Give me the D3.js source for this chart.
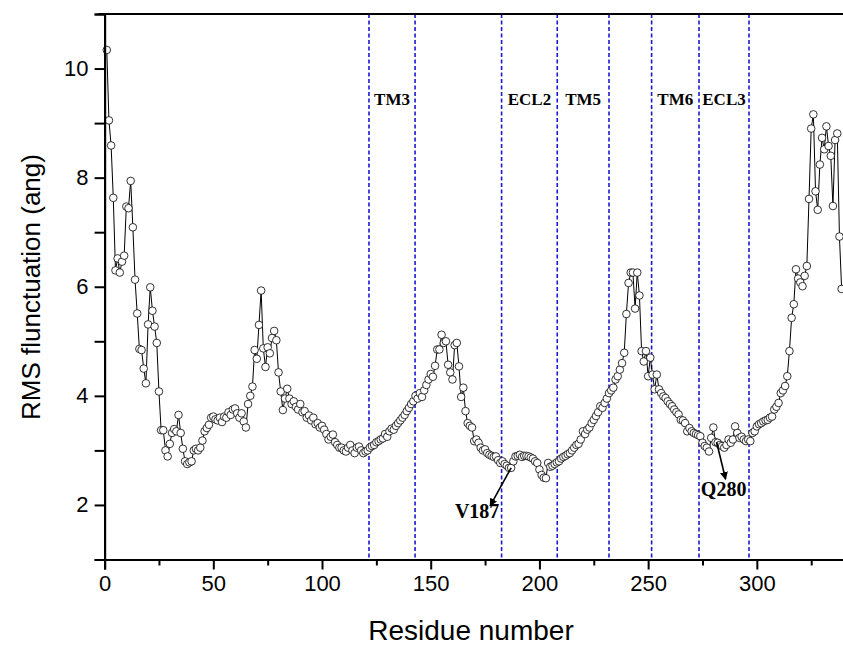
<!DOCTYPE html>
<html>
<head>
<meta charset="utf-8">
<script src="https://cdn.jsdelivr.net/npm/d3@7"></script>
<style>
  body { margin: 0; background: #fff; }
  svg { display: block; }
</style>
</head>
<body>
<div class="rmsf"></div>
<script>
// RMS fluctuation per residue (residue 1 .. 339)
const rmsf = [
  10.34, 9.05, 8.59, 7.63, 6.30, 6.52, 6.26, 6.46, 6.57, 7.47,
  7.44, 7.94, 7.09, 6.13, 5.51, 4.86, 4.84, 4.50, 4.23, 5.31,
  5.99, 5.56, 5.27, 4.97, 4.08, 3.37, 3.37, 3.00, 2.89, 3.12,
  3.32, 3.39, 3.35, 3.65, 3.32, 3.03, 2.80, 2.75, 2.78, 2.80,
  3.00, 3.03, 3.00, 3.05, 3.18, 3.35, 3.41, 3.47, 3.60, 3.62,
  3.57, 3.55, 3.60, 3.52, 3.62, 3.60, 3.70, 3.65, 3.75, 3.77,
  3.68, 3.60, 3.68, 3.53, 3.42, 3.85, 4.00, 4.17, 4.84, 4.68,
  5.30, 5.93, 4.87, 4.53, 4.89, 4.78, 5.06, 5.19, 5.02, 4.43,
  4.08, 3.74, 3.95, 4.13, 3.95, 3.85, 3.90, 3.80, 3.75, 3.85,
  3.70, 3.72, 3.60, 3.64, 3.55, 3.60, 3.48, 3.50, 3.42, 3.45,
  3.38, 3.30, 3.20, 3.25, 3.29, 3.15, 3.10, 3.05, 3.05, 3.00,
  2.98, 3.05, 3.10, 3.00, 2.95, 3.05, 3.07, 3.00, 2.95, 2.98,
  3.00, 3.05, 3.08, 3.10, 3.15, 3.17, 3.20, 3.22, 3.30, 3.25,
  3.35, 3.40, 3.38, 3.45, 3.50, 3.55, 3.60, 3.65, 3.72, 3.78,
  3.85, 3.90, 4.00, 3.95, 4.05, 3.98, 4.10, 4.20, 4.30, 4.40,
  4.35, 4.55, 4.85, 4.85, 5.12, 4.97, 5.00, 4.57, 4.43, 4.30,
  4.93, 4.97, 4.54, 3.98, 4.15, 3.72, 3.50, 3.45, 3.42, 3.17,
  3.20, 3.14, 3.05, 3.00, 3.02, 2.95, 2.92, 2.90, 2.88, 2.89,
  2.82, 2.77, 2.80, 2.75, 2.72, 2.68, 2.68, 2.80, 2.89, 2.90,
  2.92, 2.88, 2.90, 2.90, 2.89, 2.87, 2.85, 2.80, 2.77, 2.65,
  2.55, 2.50, 2.49, 2.77, 2.70, 2.72, 2.75, 2.78, 2.80, 2.85,
  2.88, 2.90, 2.93, 2.95, 3.00, 3.05, 3.10, 3.12, 3.20, 3.35,
  3.30, 3.38, 3.42, 3.50, 3.56, 3.63, 3.70, 3.81, 3.78, 3.87,
  3.95, 4.05, 4.10, 4.15, 4.30, 4.36, 4.48, 4.60, 4.79, 5.50,
  6.07, 6.26, 6.26, 5.60, 6.26, 5.84, 4.82, 4.63, 4.82, 4.36,
  4.70, 4.39, 4.12, 4.39, 4.12, 4.05, 3.99, 3.96, 3.90, 3.85,
  3.81, 3.75, 3.70, 3.66, 3.56, 3.55, 3.50, 3.35, 3.41, 3.35,
  3.32, 3.30, 3.28, 3.26, 3.14, 3.08, 3.05, 2.98, 3.23, 3.42,
  3.15, 3.14, 3.10, 3.08, 3.05, 3.10, 3.20, 3.14, 3.20, 3.44,
  3.32, 3.23, 3.25, 3.20, 3.17, 3.20, 3.17, 3.32, 3.35, 3.44,
  3.48, 3.50, 3.53, 3.55, 3.56, 3.60, 3.62, 3.75, 3.80, 3.87,
  4.05, 4.10, 4.18, 4.36, 4.82, 5.43, 5.68, 6.32, 6.15, 6.08,
  6.01, 6.20, 6.38, 7.61, 8.90, 9.16, 7.75, 7.41, 8.24, 8.73,
  8.52, 8.94, 8.58, 8.40, 7.48, 8.69, 8.81, 6.92, 5.96
];

// region boundaries (residue numbers) and their labels
const boundaries = [121.6, 142.8, 182.6, 208.2, 232, 251.6, 273.4, 296.4];
const regionNames = ["TM3", "ECL2", "TM5", "TM6", "ECL3"];
const regionFrom = [121.6, 182.6, 208.2, 251.6, 273.4];
const regionTo = [142.8, 208.2, 232, 273.4, 296.4];

// annotated residues
const markNames = ["V187", "Q280"];
const markResidue = [187, 281.5];
const markValue = [2.68, 3.15];

const xTicks = [0, 50, 100, 150, 200, 250, 300];
const xMinor = [25, 75, 125, 175, 225, 275, 325];
const yTicks = [2, 4, 6, 8, 10];
const yMinor = [1, 3, 5, 7, 9, 11];

const data = rmsf.map((v, i) => ({ res: i + 1, v: v }));

const W = 843, H = 648;
const svg = d3.select(".rmsf").append("svg")
  .attr("width", W).attr("height", H);

const x = d3.scaleLinear().domain([0, 340]).range([104.6, 843.8]);
const y = d3.scaleLinear().domain([1, 11]).range([559.5, 14]);

const sans = "'Liberation Sans', Arial, sans-serif";
const serif = "'Liberation Serif', 'Times New Roman', serif";

// dashed region lines
svg.append("g").selectAll("line").data(boundaries).join("line")
  .attr("x1", d => x(d)).attr("x2", d => x(d))
  .attr("y1", y(11)).attr("y2", y(1))
  .attr("stroke", "#1a1ad0")
  .attr("stroke-width", 1.6)
  .attr("stroke-dasharray", "4,2.5");

// region labels
svg.append("g").selectAll("text").data(regionNames).join("text")
  .attr("x", (d, i) => x((regionFrom[i] + regionTo[i]) / 2))
  .attr("y", 105)
  .attr("text-anchor", "middle")
  .attr("font-family", serif)
  .attr("font-weight", "bold")
  .attr("font-size", 17)
  .text(d => d);

// line + circles
const line = d3.line().x(d => x(d.res)).y(d => y(d.v));
svg.append("path").datum(data)
  .attr("fill", "none")
  .attr("stroke", "#000")
  .attr("stroke-width", 1)
  .attr("d", line);

svg.append("g").selectAll("circle").data(data).join("circle")
  .attr("cx", d => x(d.res))
  .attr("cy", d => y(d.v))
  .attr("r", 3.8)
  .attr("fill", "#fff")
  .attr("stroke", "#000")
  .attr("stroke-width", 0.8);

// axes
svg.append("g")
  .attr("transform", "translate(0," + y(1) + ")")
  .call(d3.axisBottom(x).tickValues(xTicks).tickSize(10).tickPadding(6).tickFormat(d3.format("d")));
svg.append("g")
  .attr("transform", "translate(0," + y(1) + ")")
  .call(d3.axisBottom(x).tickValues(xMinor).tickSize(6).tickFormat(""))
  .select(".domain").remove();

svg.append("g")
  .attr("transform", "translate(" + x(0) + ",0)")
  .call(d3.axisLeft(y).tickValues(yTicks).tickSize(10).tickPadding(6).tickFormat(d3.format("d")));
svg.append("g")
  .attr("transform", "translate(" + x(0) + ",0)")
  .call(d3.axisLeft(y).tickValues(yMinor).tickSize(10).tickFormat(""))
  .select(".domain").remove();

svg.selectAll(".domain").attr("stroke", "#000").attr("stroke-width", 2.2);
svg.selectAll(".tick line").attr("stroke", "#000").attr("stroke-width", 2);
svg.selectAll(".tick text")
  .attr("font-family", sans)
  .attr("font-size", 22)
  .attr("fill", "#000");

// top frame line
svg.append("line")
  .attr("x1", x(0) - 6).attr("x2", W)
  .attr("y1", y(11)).attr("y2", y(11))
  .attr("stroke", "#000").attr("stroke-width", 2.2);

// axis titles
svg.append("text")
  .attr("x", 471).attr("y", 640)
  .attr("text-anchor", "middle")
  .attr("font-family", sans)
  .attr("font-size", 28)
  .text("Residue number");

svg.append("text")
  .attr("transform", "translate(40,287) rotate(-90)")
  .attr("text-anchor", "middle")
  .attr("font-family", sans)
  .attr("font-size", 26)
  .text("RMS flunctuation (ang)");

// arrows with labels
const defs = svg.append("defs");
defs.append("marker")
  .attr("id", "head")
  .attr("viewBox", "0 0 10 10")
  .attr("refX", 9).attr("refY", 5)
  .attr("markerWidth", 8).attr("markerHeight", 8)
  .attr("markerUnits", "userSpaceOnUse")
  .attr("orient", "auto")
  .append("path").attr("d", "M0,0L10,5L0,10Z").attr("fill", "#000");

const arrowDx = [-21, 9];
const arrowDy = [38, 37];
const labelDx = [-34, 7];
const labelDy = [50, 54];

markNames.forEach((name, i) => {
  const px = x(markResidue[i]), py = y(markValue[i]);
  svg.append("line")
    .attr("x1", px).attr("y1", py)
    .attr("x2", px + arrowDx[i]).attr("y2", py + arrowDy[i])
    .attr("stroke", "#000").attr("stroke-width", 1.6)
    .attr("marker-end", "url(#head)");
  svg.append("text")
    .attr("x", px + labelDx[i]).attr("y", py + labelDy[i])
    .attr("text-anchor", "middle")
    .attr("font-family", serif)
    .attr("font-weight", "bold")
    .attr("font-size", 20)
    .text(name);
});
</script>
</body>
</html>
